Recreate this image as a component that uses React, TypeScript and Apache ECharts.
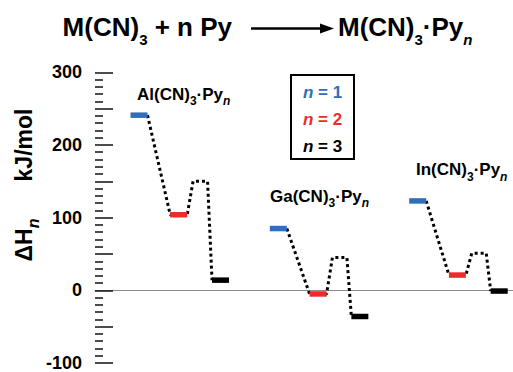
import React, { useEffect, useRef } from "react";
import * as echarts from "echarts";

// ---- data ----
const complexes = ["Al", "Ga", "In"];
const dH_n1 = [241, 85, 123];
const dH_n2 = [104, -5, 21];
const dH_barrier = [150, 45, 51];
const dH_n3 = [14, -36, -1];
const legendItems = ["1", "2", "3"];
const yMin = -100;
const yMax = 300;
const yStep = 50;
const yLabelStep = 100;

// ---- layout / style constants ----
const FONT = "'Liberation Sans', Arial, Helvetica, sans-serif";
const COLORS = ["#2F6EBA", "#EE2B2B", "#000000"];
const OFF = { n1: 0, n2: 0.285, barrier: 0.44, n3: 0.585 };
const BAR_HW = 0.061;
const PEAK_HW = 0.052;
const BAR_H = 5.5;
const X_MIN = -0.3158;
const X_MAX = 2.684;

function rich(F: number, S: number, d: number, color = "#000") {
  const L = Math.round(F * 1.5);
  const h = L - 0.7 * (F - S) - 2 * d;
  return {
    m: { fontSize: F, fontWeight: "bold", lineHeight: L, fontFamily: FONT, fill: color },
    mi: { fontSize: F, fontWeight: "bold", fontStyle: "italic", lineHeight: L, fontFamily: FONT, fill: color },
    s: { fontSize: S, fontWeight: "bold", lineHeight: h, verticalAlign: "bottom", fontFamily: FONT, fill: color },
    si: { fontSize: S, fontWeight: "bold", fontStyle: "italic", lineHeight: h, verticalAlign: "bottom", fontFamily: FONT, fill: color },
  };
}

export default function App() {
  const ref = useRef<HTMLDivElement>(null);
  useEffect(() => {
    if (!ref.current) return;
    const chart = echarts.init(ref.current, undefined, { renderer: "svg" });

    const levelSets = [dH_n1, dH_n2, dH_n3];
    const levelOff = [OFF.n1, OFF.n2, OFF.n3];

    const barSeries = levelSets.map((vals, k) => ({
      type: "custom",
      name: "n=" + legendItems[k],
      z: 3,
      clip: false,
      encode: { x: 0, y: 1 },
      data: complexes.map((_, i) => [i + levelOff[k], vals[i]]),
      renderItem: (_p: any, api: any) => {
        const x = api.value(0) as number;
        const y = api.value(1) as number;
        const a = api.coord([x - BAR_HW, y]);
        const b = api.coord([x + BAR_HW, y]);
        return {
          type: "rect",
          shape: { x: a[0], y: a[1] - BAR_H / 2, width: b[0] - a[0], height: BAR_H },
          style: { fill: COLORS[k] },
        };
      },
    }));

    const lineSeries = complexes.map((c, i) => ({
      type: "line",
      name: c + " path",
      z: 2,
      symbol: "none",
      silent: true,
      lineStyle: { color: "#000", width: 3, type: [3, 3] },
      data: [
        [i + OFF.n1 + BAR_HW, dH_n1[i]],
        [i + OFF.n2 - BAR_HW, dH_n2[i]],
        [i + OFF.n2 + BAR_HW, dH_n2[i]],
        [i + OFF.barrier - PEAK_HW, dH_barrier[i]],
        [i + OFF.barrier + PEAK_HW, dH_barrier[i]],
        [i + OFF.n3 - BAR_HW, dH_n3[i]],
      ],
    }));

    const labelPos = [
      [137, 94],
      [270, 196],
      [416, 169.5],
    ];
    const complexLabels = complexes.map((c, i) => ({
      type: "text",
      x: labelPos[i][0],
      y: labelPos[i][1],
      style: {
        text: `{m|${c}(CN)}{s|3}{m|·Py}{si|n}`,
        rich: rich(17, 12, 5),
        align: "left",
        verticalAlign: "middle",
      },
    }));

    const legendY = [92.5, 119, 146];
    const legendTexts = legendItems.map((n, k) => ({
      type: "text",
      x: 322.5,
      y: legendY[k],
      style: {
        text: `{mi|n}{m| = ${n}}`,
        rich: rich(17, 12, 5, COLORS[k]),
        align: "center",
        verticalAlign: "middle",
      },
    }));

    chart.setOption({
      animation: false,
      grid: { left: 95, right: 0, top: 72.3, bottom: 8.8, containLabel: false },
      xAxis: {
        type: "value",
        min: X_MIN,
        max: X_MAX,
        axisLine: { show: true, onZero: true, lineStyle: { color: "#8a8a8a", width: 1 } },
        axisTick: { show: false },
        axisLabel: { show: false },
        splitLine: { show: false },
      },
      yAxis: {
        type: "value",
        min: yMin,
        max: yMax,
        interval: yStep,
        axisLine: { show: false, onZero: false },
        axisTick: { show: true, inside: true, length: 18, lineStyle: { color: "#111", width: 1.5 } },
        minorTick: { show: true, splitNumber: 5, length: 8, lineStyle: { color: "#111", width: 1.5 } },
        splitLine: { show: false },
        minorSplitLine: { show: false },
        axisLabel: {
          margin: 13,
          fontSize: 18,
          fontWeight: "bold",
          color: "#000",
          fontFamily: FONT,
          formatter: (v: number) => (v % yLabelStep === 0 ? String(v) : ""),
        },
      },
      series: [...lineSeries, ...barSeries],
      graphic: [
        // title
        {
          type: "text",
          x: 232,
          y: 27,
          style: {
            text: "{m|M(CN)}{s|3}{m| + n Py}",
            rich: rich(26, 15, 6),
            align: "right",
            verticalAlign: "middle",
          },
        },
        {
          type: "line",
          shape: { x1: 251, y1: 28.5, x2: 323, y2: 28.5 },
          style: { stroke: "#000", lineWidth: 2.5 },
        },
        {
          type: "polygon",
          shape: { points: [[334, 28.5], [320, 23.5], [320, 33.5]] },
          style: { fill: "#000" },
        },
        {
          type: "text",
          x: 338,
          y: 27,
          style: {
            text: "{m|M(CN)}{s|3}{m|·Py}{si|n}",
            rich: rich(26, 15, 6),
            align: "left",
            verticalAlign: "middle",
          },
        },
        // y axis name
        {
          type: "text",
          x: 24,
          y: 240,
          rotation: Math.PI / 2,
          style: {
            text: "{m|ΔH}{si|n}",
            rich: rich(23, 16, 6),
            align: "center",
            verticalAlign: "middle",
          },
        },
        {
          type: "text",
          x: 24,
          y: 145,
          rotation: Math.PI / 2,
          style: {
            text: "{m|kJ/mol}",
            rich: rich(23, 16, 6),
            align: "center",
            verticalAlign: "middle",
          },
        },
        // legend box
        {
          type: "rect",
          shape: { x: 291, y: 75, width: 63, height: 84 },
          style: { stroke: "#000", lineWidth: 2, fill: "#fff" },
          z: 10,
        },
        ...legendTexts.map((t) => ({ ...t, z: 11 })),
        ...complexLabels,
      ],
    });
    return () => chart.dispose();
  }, []);
  return (
    <div
      ref={ref}
      style={{ position: "absolute", left: 0, top: 0, width: 513, height: 372, background: "#fff" }}
    />
  );
}
